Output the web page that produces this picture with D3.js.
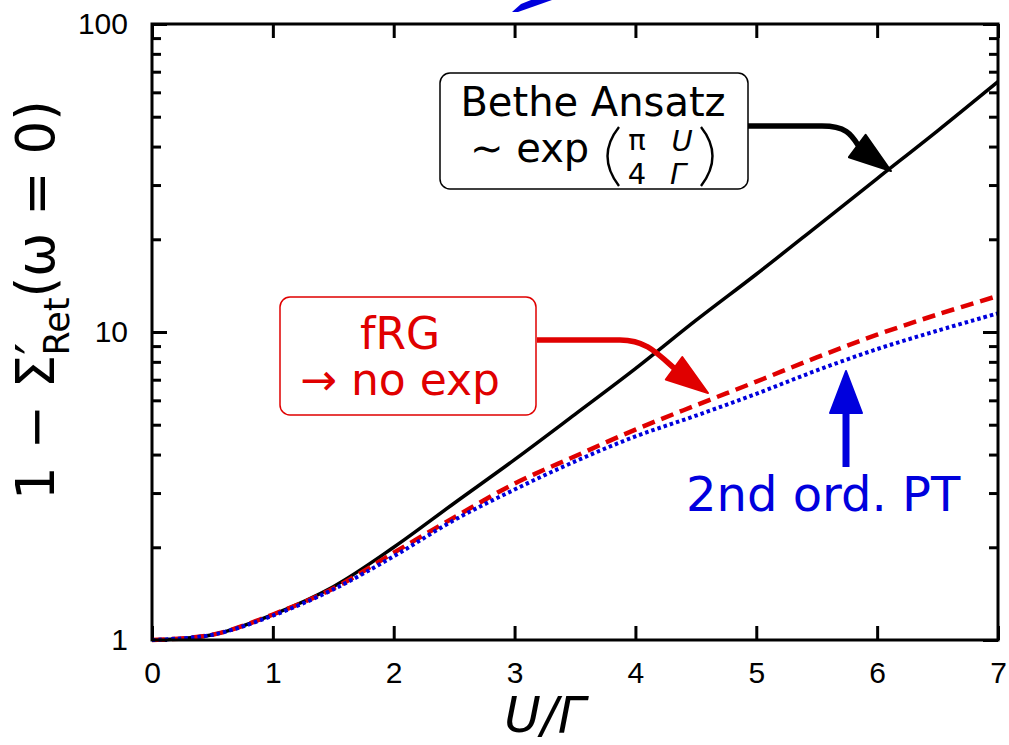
<!DOCTYPE html>
<html>
<head>
<meta charset="utf-8">
<script src="https://cdn.jsdelivr.net/npm/d3@7"></script>
<style>
  body { margin: 0; background: #fff; }
</style>
</head>
<body>
<div id="chart"></div>
<script>
// data
var uValues       = [0, 0.5, 1, 1.5, 2, 2.5, 3, 3.5, 4, 4.5, 5, 5.5, 6, 6.5, 7];
var betheAnsatz   = [1, 1.04, 1.21, 1.49, 2.0, 2.78, 3.85, 5.4, 7.6, 10.9, 15.4, 22, 31.5, 45, 65];
var fRG           = [1, 1.04, 1.21, 1.47, 1.92, 2.5, 3.22, 3.95, 4.82, 5.78, 6.9, 8.27, 9.8, 11.4, 13.1];
var secondOrderPT = [1, 1.04, 1.2, 1.46, 1.87, 2.45, 3.08, 3.8, 4.58, 5.35, 6.3, 7.5, 8.8, 10.1, 11.5];
var xTicks      = [0, 1, 2, 3, 4, 5, 6, 7];
var yMajorTicks = [1, 10, 100];
var yMinorTicks = [2, 3, 4, 5, 6, 7, 8, 9, 20, 30, 40, 50, 60, 70, 80, 90];

var width = 1009, height = 745;
var margin = {left: 152, top: 24, right: 11, bottom: 105};
var red = "#e00000", blue = "#0000dd";
var tickFont = "'Liberation Sans', Arial, sans-serif";
var textFont = "'DejaVu Sans', sans-serif";

var svg = d3.select("#chart").append("svg")
    .attr("width", width)
    .attr("height", height);

var x = d3.scaleLinear().domain([0, 7]).range([margin.left, width - margin.right]);
var y = d3.scaleLog().domain([1, 100]).range([height - margin.bottom, margin.top]);

function styleAxis(g) {
  g.select(".domain").remove();
  g.selectAll(".tick line").attr("stroke", "#000").attr("stroke-width", 3);
  g.selectAll(".tick text").attr("fill", "#000")
      .style("font-family", tickFont).style("font-size", "30px");
}

// axes
svg.append("g")
    .attr("transform", "translate(0," + y(1) + ")")
    .call(d3.axisBottom(x).tickValues(xTicks).tickFormat(d3.format("d"))
      .tickSizeInner(-14).tickSizeOuter(0).tickPadding(22))
    .call(styleAxis);

svg.append("g")
    .attr("transform", "translate(0," + y(100) + ")")
    .call(d3.axisTop(x).tickValues(xTicks).tickFormat("")
      .tickSizeInner(-14).tickSizeOuter(0))
    .call(styleAxis);

svg.append("g")
    .attr("transform", "translate(" + x(0) + ",0)")
    .call(d3.axisLeft(y).tickValues(yMajorTicks).tickFormat(d3.format("d"))
      .tickSizeInner(-15).tickSizeOuter(0).tickPadding(24))
    .call(styleAxis);

svg.append("g")
    .attr("transform", "translate(" + x(0) + ",0)")
    .call(d3.axisLeft(y).tickValues(yMinorTicks).tickFormat("")
      .tickSizeInner(-9).tickSizeOuter(0))
    .call(styleAxis);

svg.append("g")
    .attr("transform", "translate(" + x(7) + ",0)")
    .call(d3.axisRight(y).tickValues(yMajorTicks).tickFormat("")
      .tickSizeInner(-15).tickSizeOuter(0))
    .call(styleAxis);

svg.append("g")
    .attr("transform", "translate(" + x(7) + ",0)")
    .call(d3.axisRight(y).tickValues(yMinorTicks).tickFormat("")
      .tickSizeInner(-9).tickSizeOuter(0))
    .call(styleAxis);

// series
var line = d3.line()
    .x(function(d) { return x(d[0]); })
    .y(function(d) { return y(d[1]); })
    .curve(d3.curveCatmullRom.alpha(0.5));

function pairs(vals) { return uValues.map(function(u, i) { return [u, vals[i]]; }); }

svg.append("path").attr("d", line(pairs(betheAnsatz)))
    .attr("fill", "none").attr("stroke", "#000").attr("stroke-width", 3.5);
svg.append("path").attr("d", line(pairs(fRG)))
    .attr("fill", "none").attr("stroke", red).attr("stroke-width", 4.5)
    .attr("stroke-dasharray", "13,7");
svg.append("path").attr("d", line(pairs(secondOrderPT)))
    .attr("fill", "none").attr("stroke", blue).attr("stroke-width", 4)
    .attr("stroke-dasharray", "3.5,3");

// frame
svg.append("rect")
    .attr("x", x(0)).attr("y", y(100))
    .attr("width", x(7) - x(0)).attr("height", y(1) - y(100))
    .attr("fill", "none").attr("stroke", "#000").attr("stroke-width", 3);

// axis titles
var yTitle = svg.append("text")
    .attr("transform", "translate(54,300) rotate(-90)")
    .attr("text-anchor", "middle")
    .style("font-family", textFont).style("font-size", "53px");
yTitle.append("tspan").text("1 \u2212 \u03A3");
yTitle.append("tspan").text("\u2032");
yTitle.append("tspan").attr("dx", -13).attr("dy", 15).style("font-size", "35px").text("Ret");
yTitle.append("tspan").attr("dy", -15).text("(\u03C9 = 0)");

svg.append("text")
    .attr("x", 545).attr("y", 732)
    .attr("text-anchor", "middle")
    .style("font-family", textFont).style("font-size", "50px").style("font-style", "italic")
    .text("U/\u0393");

// arrows
function arrowHead(g, tip, from, len, half, color) {
  var dx = tip[0] - from[0], dy = tip[1] - from[1];
  var l = Math.sqrt(dx * dx + dy * dy);
  var ux = dx / l, uy = dy / l;
  var bx = tip[0] - ux * len, by = tip[1] - uy * len;
  var pts = [tip, [bx - uy * half, by + ux * half], [bx + uy * half, by - ux * half]];
  g.append("path").attr("d", "M" + pts.join("L") + "Z")
      .attr("fill", color).attr("stroke", color).attr("stroke-width", 2)
      .attr("stroke-linejoin", "round");
}

function curvedArrow(g, start, hx, c1, c2, end, tip, color) {
  var p = d3.path();
  p.moveTo(start[0], start[1]);
  p.lineTo(hx, start[1]);
  p.bezierCurveTo(c1[0], c1[1], c2[0], c2[1], end[0], end[1]);
  g.append("path").attr("d", p.toString())
      .attr("fill", "none").attr("stroke", color).attr("stroke-width", 5.5);
  arrowHead(g, tip, end, 42, 14, color);
}

// Bethe Ansatz box
var ba = svg.append("g");
ba.append("rect").attr("x", 440).attr("y", 73).attr("width", 308).attr("height", 116)
    .attr("rx", 10).attr("fill", "#fff").attr("stroke", "#000").attr("stroke-width", 1.5);
ba.append("text").attr("x", 593).attr("y", 116).attr("text-anchor", "middle")
    .style("font-family", textFont).style("font-size", "40px").text("Bethe Ansatz");
ba.append("text").attr("x", 470).attr("y", 162)
    .style("font-family", textFont).style("font-size", "40px").text("\u223C exp");
ba.append("path").attr("d", "M619,127 Q596,156 619,186")
    .attr("fill", "none").attr("stroke", "#000").attr("stroke-width", 2.4);
ba.append("path").attr("d", "M701,127 Q724,156 701,186")
    .attr("fill", "none").attr("stroke", "#000").attr("stroke-width", 2.4);
var frac = [["\u03C0", 637, 150, "normal"], ["4", 637, 184, "normal"],
            ["U", 682, 151, "italic"], ["\u0393", 678, 184, "italic"]];
frac.forEach(function(f) {
  ba.append("text").attr("x", f[1]).attr("y", f[2]).attr("text-anchor", "middle")
      .style("font-family", textFont).style("font-size", "29px").style("font-style", f[3])
      .text(f[0]);
});
curvedArrow(svg, [748, 126], 822, [848, 126], [852, 136], [860, 148], [891, 171], "#000");

// fRG box
var fb = svg.append("g");
fb.append("rect").attr("x", 280).attr("y", 297).attr("width", 256).attr("height", 118)
    .attr("rx", 10).attr("fill", "#fff").attr("stroke", red).attr("stroke-width", 1.5);
fb.append("text").attr("x", 400).attr("y", 349).attr("text-anchor", "middle")
    .attr("fill", red).style("font-family", textFont).style("font-size", "44px").text("fRG");
fb.append("text").attr("x", 400).attr("y", 395).attr("text-anchor", "middle")
    .attr("fill", red).style("font-family", textFont).style("font-size", "44px").text("\u2192 no exp");
curvedArrow(svg, [537, 340], 620, [645, 340], [656, 352], [675, 369], [708, 393], red);

// 2nd order PT
svg.append("path").attr("d", "M846,467V408")
    .attr("stroke", blue).attr("stroke-width", 7);
arrowHead(svg, [846, 371], [846, 467], 42, 16, blue);
svg.append("text").attr("x", 686).attr("y", 511)
    .attr("fill", blue).style("font-family", textFont).style("font-size", "48px")
    .text("2nd ord. PT");

// stray blue arrow piece cut off at the top
svg.append("path").attr("d", "M512,12L521,4L531,0L552,0L518,12Z").attr("fill", blue);
</script>
</body>
</html>
